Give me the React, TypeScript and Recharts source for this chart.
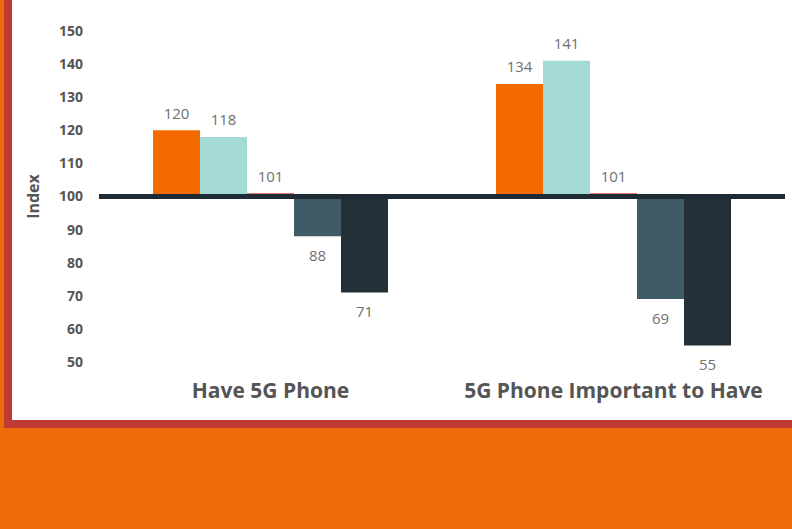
import React from 'react';
import { BarChart, Bar, XAxis, YAxis, ReferenceLine, LabelList } from 'recharts';

// ---------------------------------------------------------------------------
// Data (index values, 100 = average)
// ---------------------------------------------------------------------------

const categories = ['Have 5G Phone', '5G Phone Important to Have'];
const seriesA = [120, 134];
const seriesB = [118, 141];
const seriesC = [101, 101];
const seriesD = [88, 69];
const seriesE = [71, 55];
const yTicks = [50, 60, 70, 80, 90, 100, 110, 120, 130, 140, 150];
const BASELINE = 100;

const SERIES = [
  { key: 's1', values: seriesA, color: '#f46a00' },
  { key: 's2', values: seriesB, color: '#a3dad6' },
  { key: 's3', values: seriesC, color: '#e0443a' },
  { key: 's4', values: seriesD, color: '#3f5b65' },
  { key: 's5', values: seriesE, color: '#243038' },
];

// bars hang from the 100 line, so each value is a [100, v] range
const data = categories.map((name, i) => {
  const row: Record<string, unknown> = { name };
  SERIES.forEach((s) => {
    row[s.key] = [BASELINE, s.values[i]];
  });
  return row;
});

const FONT = '"Open Sans", "Noto Sans", sans-serif';

// ---------------------------------------------------------------------------
// Value label: above for > 100, below for < 100
// ---------------------------------------------------------------------------

function ValueLabel(props: any) {
  const { x, y, width, height, value } = props;
  const v = Array.isArray(value) ? value[value.length - 1] : value;
  const top = Math.min(y, y + height);
  const bottom = Math.max(y, y + height);
  const cy = v >= BASELINE ? top - 17.5 : bottom + 18.5;
  return (
    <text
      x={x + width / 2}
      y={cy}
      textAnchor="middle"
      dominantBaseline="central"
      fill="#707070"
      fontSize={15}
      fontFamily={FONT}
    >
      {v}
    </text>
  );
}

export default function App() {
  return (
    <div
      style={{
        position: 'fixed',
        left: 0,
        top: 0,
        width: 792,
        height: 529,
        overflow: 'hidden',
        background: '#ef6b0a',
      }}
    >
      {/* red framed white card */}
      <div
        style={{
          position: 'absolute',
          left: 4,
          top: -20,
          width: 820,
          height: 448,
          boxSizing: 'border-box',
          border: '8px solid #c03a35',
          background: '#ffffff',
        }}
      />
      <div style={{ position: 'absolute', left: 0, top: 0 }}>
        <BarChart
          width={792}
          height={420}
          data={data}
          margin={{ top: 31, right: 7, bottom: 0, left: 0 }}
          barCategoryGap={54}
          barGap={0}
        >
          <XAxis
            dataKey="name"
            axisLine={false}
            tickLine={false}
            tickSize={0}
            tickMargin={21}
            height={58}
            interval={0}
            tick={{ fill: '#555555', fontSize: 21, fontWeight: 700, fontFamily: FONT }}
          />
          <YAxis
            type="number"
            domain={[50, 150]}
            ticks={yTicks}
            width={99}
            axisLine={false}
            tickLine={false}
            tickSize={0}
            tickMargin={16}
            tick={{ fill: '#555555', fontSize: 14, fontWeight: 700, fontFamily: FONT }}
            label={{
              value: 'Index',
              angle: -90,
              position: 'center',
              dx: -16,
              fill: '#555555',
              fontSize: 16,
              fontWeight: 700,
              fontFamily: FONT,
            }}
          />
          {SERIES.map((s) => (
            <Bar key={s.key} dataKey={s.key} fill={s.color} isAnimationActive={false}>
              <LabelList dataKey={s.key} content={<ValueLabel />} />
            </Bar>
          ))}
          <ReferenceLine y={BASELINE} stroke="#1e2b34" strokeWidth={5} />
        </BarChart>
      </div>
    </div>
  );
}
